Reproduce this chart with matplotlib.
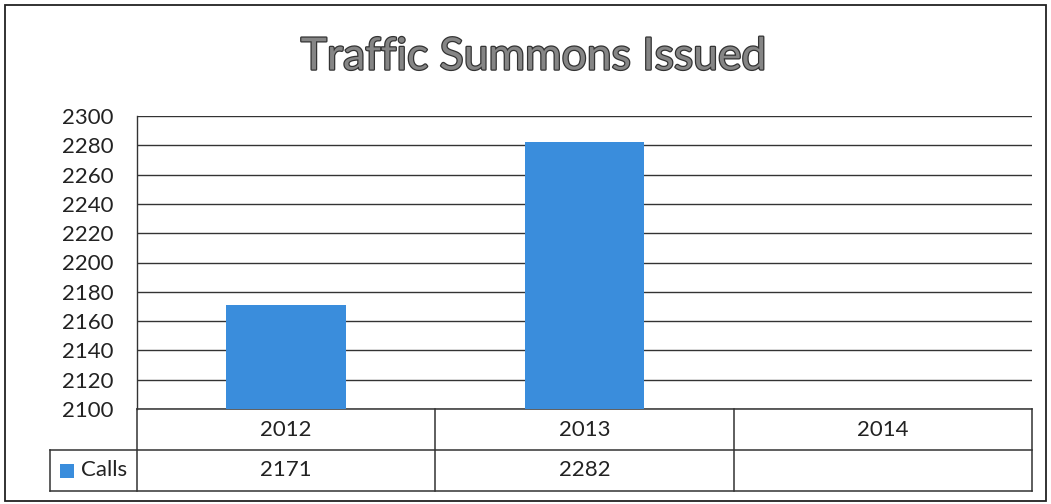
import numpy as np
import matplotlib
matplotlib.use('Agg')
import matplotlib.pyplot as plt
import matplotlib.patheffects as pe
from matplotlib.patches import Rectangle

years = ['2012', '2013', '2014']
calls = [2171, 2282, None]
yticks = list(range(2100, 2301, 20))
series_name = 'Calls'

plt.rcParams['font.family'] = ['Lato', 'DejaVu Sans']

fig = plt.figure(figsize=(10.51, 5.04), dpi=100)
W, H = 1051, 504


def fx(px):
    return px / W


def fy(py):
    return 1 - py / H


# outer chart border
fig.patches.append(Rectangle((fx(5), fy(501)), fx(1046) - fx(5), fy(5) - fy(501),
                             transform=fig.transFigure, fill=False,
                             edgecolor='#222222', linewidth=1.3))

left, right, top, bottom = 137, 1032, 116, 409
ax = fig.add_axes([fx(left), fy(bottom), fx(right) - fx(left), fy(top) - fy(bottom)])

bar_color = '#3a8ddc'
fs = 16
xs = np.arange(len(years))
vals = [v if v is not None else np.nan for v in calls]
ax.bar(xs, vals, width=0.4, color=bar_color, zorder=3)

ax.set_xlim(-0.5, len(years) - 0.5)
ax.set_ylim(2100, 2300)
ax.set_yticks(yticks)
ax.set_yticklabels([str(t) for t in yticks], fontsize=fs, color='#222222')
ax.tick_params(axis='y', length=0, pad=17)
ax.set_xticks([])
ax.grid(axis='y', color='#333333', linewidth=1.0, zorder=0)
for s in ['top', 'right', 'bottom']:
    ax.spines[s].set_visible(False)
ax.spines['left'].set_color('#333333')
ax.spines['left'].set_linewidth(1.0)

# data table below the plot
trans = ax.get_xaxis_transform()
ph = bottom - top
r1 = -(450 - bottom) / ph
r2 = -(491 - bottom) / ph
leg_x = -0.5 - (137 - 50) / 298
lc = '#333333'
lw = 1.1
# horizontal lines
ax.plot([-0.5, 2.5], [0, 0], transform=trans, color=lc, lw=lw, clip_on=False)
ax.plot([leg_x, 2.5], [r1, r1], transform=trans, color=lc, lw=lw, clip_on=False)
ax.plot([leg_x, 2.5], [r2, r2], transform=trans, color=lc, lw=lw, clip_on=False)
# vertical lines
ax.plot([leg_x, leg_x], [r1, r2], transform=trans, color=lc, lw=lw, clip_on=False)
for xv in [-0.5, 0.5, 1.5, 2.5]:
    ax.plot([xv, xv], [0, r2], transform=trans, color=lc, lw=lw, clip_on=False)

for i, yr in enumerate(years):
    ax.text(xs[i], r1 / 2, yr, transform=trans, ha='center', va='center',
            fontsize=fs, color='#222222')
    if calls[i] is not None:
        ax.text(xs[i], (r1 + r2) / 2, str(calls[i]), transform=trans,
                ha='center', va='center', fontsize=fs, color='#222222')

# legend key in table
key_x = leg_x + 10 / 298
ax.add_patch(Rectangle((key_x, (r1 + r2) / 2 - 14 / ph / 2), 14 / 298, 14 / ph,
                       transform=trans, facecolor=bar_color, edgecolor='none',
                       clip_on=False))
ax.text(key_x + 21 / 298, (r1 + r2) / 2, series_name, transform=trans,
        ha='left', va='center', fontsize=fs, color='#222222')

# title
fig.text(fx(534), fy(57), 'Traffic Summons Issued', ha='center', va='center',
         fontsize=32, color='#858585',
         path_effects=[pe.withStroke(linewidth=1.8, foreground='#333333')])

fig.savefig('out.png', dpi=100)
